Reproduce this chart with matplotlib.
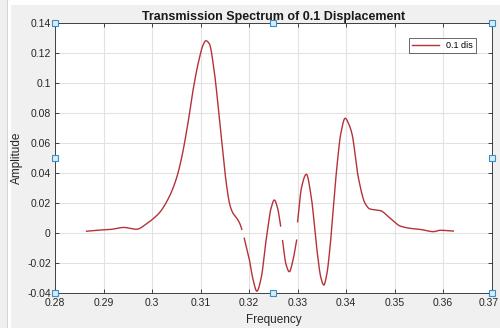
import numpy as np
import matplotlib
matplotlib.use("Agg")
import matplotlib.pyplot as plt
from matplotlib.patches import Rectangle
import matplotlib.transforms as mtransforms

plt.rcParams['font.family'] = ['Liberation Sans', 'DejaVu Sans']

title = "Transmission Spectrum of 0.1 Displacement"
xlabel = "Frequency"
ylabel = "Amplitude"
legend_label = "0.1 dis"

# Curve segments (frequency, amplitude)
seg1_f = [0.2865, 0.2893, 0.2915, 0.2941, 0.2968, 0.2989, 0.3003, 0.3016, 0.3037, 0.3051,
          0.3061, 0.3075, 0.3085, 0.3098, 0.3105, 0.3111, 0.3118, 0.3128, 0.3137, 0.3144,
          0.3153, 0.3160, 0.3166, 0.3175, 0.3181, 0.3185]
seg1_v = [0.001, 0.0018, 0.0022, 0.0035, 0.0023, 0.006, 0.0095, 0.0136, 0.025, 0.037,
          0.050, 0.075, 0.096, 0.117, 0.125, 0.128, 0.126, 0.108, 0.082, 0.060,
          0.033, 0.019, 0.0135, 0.0095, 0.006, 0.0023]

seg2_f = [0.3190, 0.3200, 0.3208, 0.3216, 0.3225, 0.3235, 0.3245, 0.3252, 0.3259, 0.3265]
seg2_v = [-0.0037, -0.017, -0.031, -0.039, -0.030, -0.005, 0.016, 0.0218, 0.016, 0.0045]

seg3_f = [0.3269, 0.3276, 0.3283, 0.3290, 0.3298]
seg3_v = [-0.0053, -0.021, -0.026, -0.019, -0.005]

seg4_f = [0.3300, 0.3308, 0.3318, 0.3328, 0.3340, 0.3348, 0.3354, 0.3360, 0.3367, 0.3374,
          0.3381, 0.3389, 0.3398, 0.3406, 0.3412, 0.3425, 0.3439, 0.3449, 0.3460,
          0.3470, 0.3487, 0.3500, 0.3511, 0.3532, 0.3553, 0.3580, 0.3594, 0.3621]
seg4_v = [0.0073, 0.030, 0.039, 0.024, -0.012, -0.030, -0.0349, -0.028, -0.009, 0.018,
          0.044, 0.066, 0.0763, 0.072, 0.066, 0.037, 0.0196, 0.0158, 0.0152,
          0.0148, 0.0107, 0.007, 0.0045, 0.0029, 0.0022, 0.0007, 0.0016, 0.0011]

xticks = [0.28, 0.29, 0.30, 0.31, 0.32, 0.33, 0.34, 0.35, 0.36, 0.37]
xticklabels = ["0.28", "0.29", "0.3", "0.31", "0.32", "0.33", "0.34", "0.35", "0.36", "0.37"]
yticks = [-0.04, -0.02, 0, 0.02, 0.04, 0.06, 0.08, 0.10, 0.12, 0.14]
yticklabels = ["-0.04", "-0.02", "0", "0.02", "0.04", "0.06", "0.08", "0.1", "0.12", "0.14"]

line_color = "#b5323a"


def pchip(x, y, n=400):
    x = np.asarray(x, float); y = np.asarray(y, float)
    h = np.diff(x); d = np.diff(y) / h
    m = np.zeros_like(y)
    for k in range(1, len(x) - 1):
        if d[k - 1] * d[k] > 0:
            w1 = 2 * h[k] + h[k - 1]; w2 = h[k] + 2 * h[k - 1]
            m[k] = (w1 + w2) / (w1 / d[k - 1] + w2 / d[k])
    m[0] = d[0]; m[-1] = d[-1]
    xx = np.linspace(x[0], x[-1], n)
    idx = np.clip(np.searchsorted(x, xx) - 1, 0, len(x) - 2)
    t = (xx - x[idx]) / h[idx]
    h00 = 2 * t**3 - 3 * t**2 + 1; h10 = t**3 - 2 * t**2 + t
    h01 = -2 * t**3 + 3 * t**2; h11 = t**3 - t**2
    yy = h00 * y[idx] + h10 * h[idx] * m[idx] + h01 * y[idx + 1] + h11 * h[idx] * m[idx + 1]
    return xx, yy


fig = plt.figure(figsize=(5.0, 3.28), dpi=100, facecolor="white")
fig.patches.append(Rectangle((11 / 500, 0), 489 / 500, 323 / 328, transform=fig.transFigure,
                             facecolor="#f0f0f0", edgecolor="none", zorder=-10))
fig.patches.append(Rectangle((0, 0), 7 / 500, 1, transform=fig.transFigure,
                             facecolor="#efefef", edgecolor="none", zorder=-10))
fig.patches.append(Rectangle((7 / 500, 0), 1 / 500, 1, transform=fig.transFigure,
                             facecolor="#d4d4d4", edgecolor="none", zorder=-10))

ax = fig.add_axes([55 / 500, 1 - 292.7 / 328, (491.7 - 55) / 500, (292.7 - 22.7) / 328])
ax.set_facecolor("white")

first = True
for f, v in [(seg1_f, seg1_v), (seg2_f, seg2_v), (seg3_f, seg3_v), (seg4_f, seg4_v)]:
    sf, sv = pchip(f, v)
    ax.plot(sf, sv, color=line_color, lw=1.0, label=legend_label if first else None)
    first = False

ax.set_xlim(0.28, 0.37)
ax.set_ylim(-0.04, 0.14)
ax.set_xticks(xticks)
ax.set_xticklabels(xticklabels)
ax.set_yticks(yticks)
ax.set_yticklabels(yticklabels)
ax.grid(True, color="#e2e2e2", lw=0.8)
ax.set_axisbelow(True)
ax.tick_params(direction="in", length=3, top=True, right=True, labelsize=7.5,
               colors="#262626", labelcolor="#262626", width=0.6, pad=3)
ax.tick_params(axis="x", pad=4)
for s in ax.spines.values():
    s.set_color("#262626")
    s.set_linewidth(0.6)

# nudge the last x tick label so it stays inside the picture
last = ax.get_xticklabels()[-1]
last.set_transform(last.get_transform() + mtransforms.ScaledTranslation(-3 / 100, 0, fig.dpi_scale_trans))

ax.set_title(title, fontsize=9, fontweight="bold", color="#1a1a1a", pad=2)
ax.set_xlabel(xlabel, fontsize=8.5, color="#262626", labelpad=4)
ax.set_ylabel(ylabel, fontsize=8.5, color="#262626", labelpad=3)

leg = ax.legend(loc="upper right", fontsize=6.5, frameon=True, fancybox=False,
                handlelength=3.0, borderpad=0.35, bbox_to_anchor=(0.975, 0.96))
leg.get_frame().set_edgecolor("#262626")
leg.get_frame().set_linewidth(0.6)

# Selection handles on the axes box
hx = [0.28, 0.325, 0.37, 0.28, 0.37, 0.28, 0.325, 0.37]
hy = [0.14, 0.14, 0.14, 0.05, 0.05, -0.04, -0.04, -0.04]
ax.plot(hx, hy, ls="none", marker="s", ms=4.5, mfc="#d8ecf8", mec="#3a8fc8", mew=0.8,
        clip_on=False, zorder=10)

fig.savefig("out.png", dpi=100, facecolor=fig.get_facecolor())
